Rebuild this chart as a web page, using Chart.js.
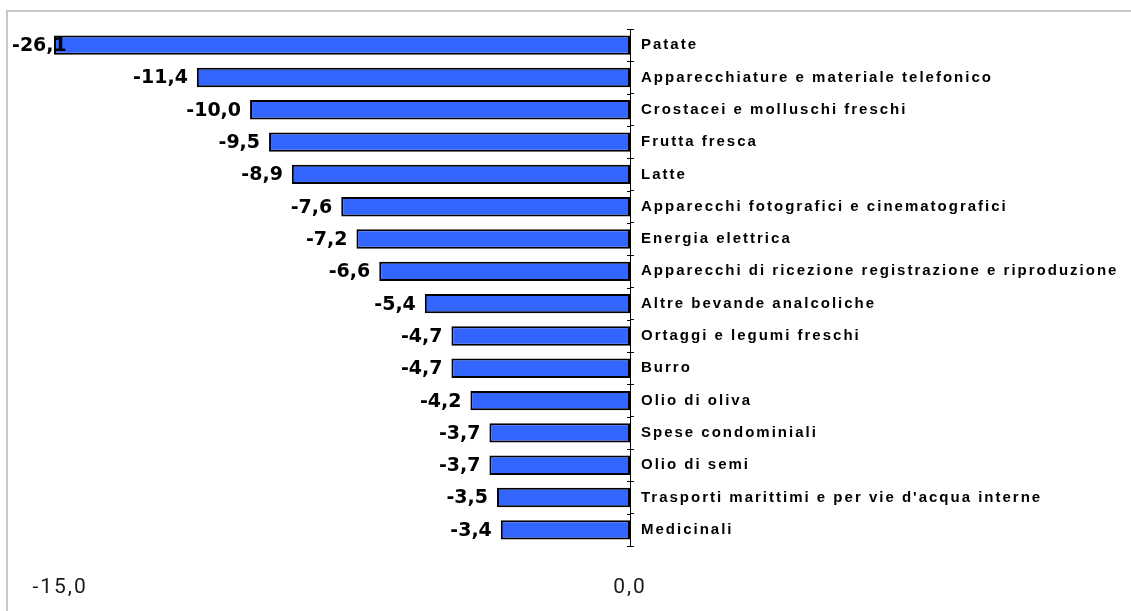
<!DOCTYPE html>
<html><head><meta charset="utf-8">
<script src="https://cdn.jsdelivr.net/npm/chart.js@4.4.1/dist/chart.umd.min.js"></script>
<style>html,body{margin:0;padding:0;background:#fff;overflow:hidden}</style>
</head><body>
<canvas id="c" width="1131" height="611"></canvas>
<script>
// ---- data ----
const categories = [
  "Patate",
  "Apparecchiature e materiale telefonico",
  "Crostacei e molluschi freschi",
  "Frutta fresca",
  "Latte",
  "Apparecchi fotografici e cinematografici",
  "Energia elettrica",
  "Apparecchi di ricezione registrazione e riproduzione",
  "Altre bevande analcoliche",
  "Ortaggi e legumi freschi",
  "Burro",
  "Olio di oliva",
  "Spese condominiali",
  "Olio di semi",
  "Trasporti marittimi e per vie d'acqua interne",
  "Medicinali"
];
const values = [-26.1, -11.4, -10.0, -9.5, -8.9, -7.6, -7.2, -6.6, -5.4, -4.7, -4.7, -4.2, -3.7, -3.7, -3.5, -3.4];
const xTicks = [-15, 0];
const xMin = -15.16;
const xMax = 0;

// ---- helpers ----
const fmt = v => Number(v).toFixed(1).replace('.', ',');
const drawn = values.map(v => Math.max(v, xMin)); // bars clipped at axis minimum, as in original

const framePlugin = {
  id: 'frame',
  beforeDraw(chart) {
    const ctx = chart.ctx;
    ctx.save();
    ctx.fillStyle = '#ffffff';
    ctx.fillRect(0, 0, chart.width, chart.height);
    ctx.strokeStyle = '#c8c8c8';
    ctx.lineWidth = 2;
    ctx.strokeRect(7, 11, chart.width + 50, chart.height + 50);
    ctx.restore();
    ctx.letterSpacing = '2px';
  },
  afterDraw(chart) {
    chart.ctx.letterSpacing = '0px';
  }
};

const innerTicksPlugin = {
  id: 'innerTicks',
  afterDatasetsDraw(chart) {
    const ctx = chart.ctx, ys = chart.scales.y, xs = chart.scales.x;
    const x0 = xs.getPixelForValue(0);
    ctx.save();
    ctx.strokeStyle = '#000';
    ctx.lineWidth = 1;
    ctx.beginPath();
    for (let i = 0; i <= categories.length; i++) {
      const y = Math.round(ys.getPixelForValue(i - 0.5)) + 0.5;
      ctx.moveTo(x0 - 3, y);
      ctx.lineTo(x0, y);
    }
    ctx.stroke();
    ctx.restore();
  }
};

const valueLabelPlugin = {
  id: 'valueLabels',
  afterDatasetsDraw(chart) {
    const ctx = chart.ctx;
    const meta = chart.getDatasetMeta(0);
    ctx.save();
    ctx.letterSpacing = '0px';
    ctx.font = 'bold 19px "DejaVu Sans"';
    ctx.fillStyle = '#000';
    ctx.textAlign = 'right';
    ctx.textBaseline = 'middle';
    meta.data.forEach((bar, i) => {
      const t = fmt(values[i]);
      const w = ctx.measureText(t).width;
      const x = Math.max(bar.x - 9, 12 + w);
      ctx.fillText(t, x, bar.y + 1);
    });
    ctx.restore();
  }
};

new Chart(document.getElementById('c').getContext('2d'), {
  type: 'bar',
  data: {
    labels: categories,
    datasets: [{
      data: drawn,
      backgroundColor: '#3366FF',
      borderColor: '#000000',
      borderWidth: 2,
      borderSkipped: false,
      barPercentage: 0.6,
      categoryPercentage: 1
    }]
  },
  options: {
    indexAxis: 'y',
    responsive: false,
    animation: false,
    events: [],
    devicePixelRatio: 1,
    layout: { padding: { left: 54, top: 29, right: 0, bottom: 0 } },
    plugins: { legend: { display: false }, tooltip: { enabled: false } },
    scales: {
      x: {
        type: 'linear', min: xMin, max: xMax, position: 'bottom',
        afterBuildTicks: s => { s.ticks = xTicks.map(v => ({ value: v })); },
        afterFit: s => { s.height = 65; },
        grid: { display: false, drawTicks: false },
        border: { display: false },
        ticks: {
          font: { family: 'Roboto', size: 21 }, color: '#1a1a1a',
          padding: 29, maxRotation: 0, autoSkip: false,
          callback: v => fmt(v)
        }
      },
      y: {
        type: 'category', position: 'right',
        afterFit: s => { s.width = 501; },
        grid: { display: true, drawOnChartArea: false, drawTicks: true, tickLength: 4, color: '#000', lineWidth: 1, offset: true },
        border: { display: true, color: '#000', width: 1 },
        ticks: {
          font: { family: 'Liberation Sans', size: 15, weight: 'bold' }, color: '#000',
          padding: 7, autoSkip: false
        }
      }
    }
  },
  plugins: [framePlugin, innerTicksPlugin, valueLabelPlugin]
});
</script>
</body></html>
